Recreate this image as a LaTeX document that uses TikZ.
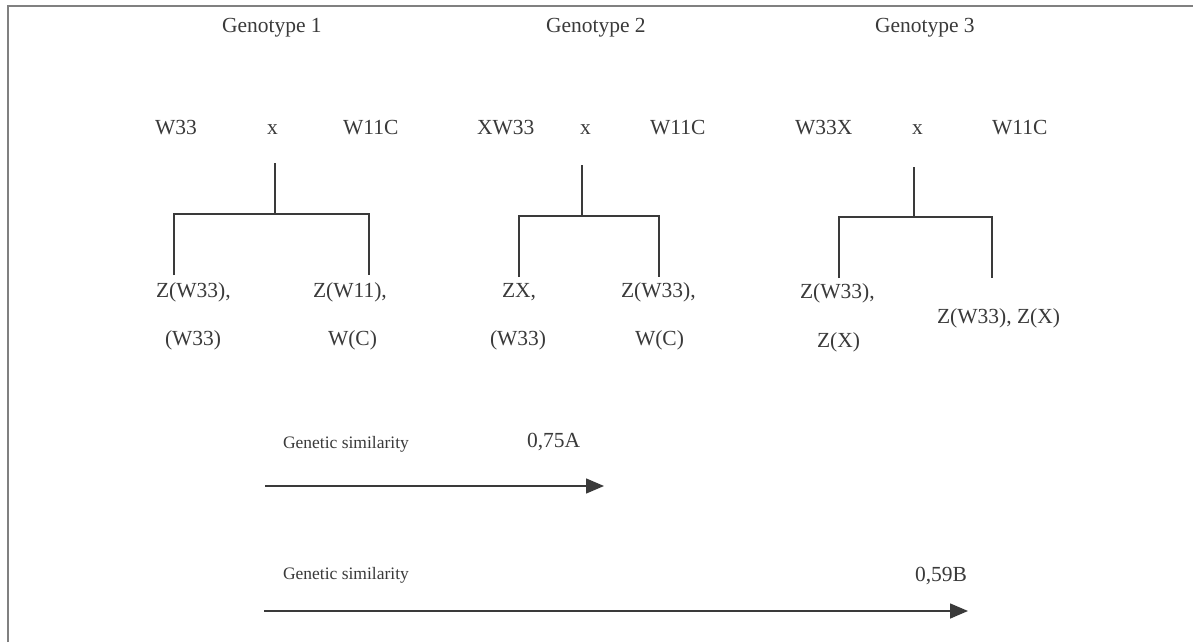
\documentclass[tikz,border=0pt]{standalone}
\usepackage{fontspec}
\setmainfont{Liberation Serif}
\usetikzlibrary{arrows.meta}
\definecolor{ink}{HTML}{3A3A3A}
\definecolor{framegray}{HTML}{808080}
\begin{document}
\begin{tikzpicture}[x=1pt,y=-1pt,
  lbl/.style={anchor=base west, inner sep=0pt, outer sep=0pt, text=ink, font=\fontsize{21.5}{24}\selectfont},
  small/.style={anchor=base west, inner sep=0pt, outer sep=0pt, text=ink, font=\fontsize{17.5}{20}\selectfont},
  tree/.style={draw=ink, line width=1.3pt},
  simarrow/.style={draw=ink, line width=1.5pt, -{Triangle[length=18pt,width=15pt]}},
  framestyle/.style={draw=framegray, line width=2.5pt}]
\useasboundingbox (0,0) rectangle (1193,642);
\fill[white] (0,0) rectangle (1193,642);
% frame
\coordinate (fBL) at (8,642);
\coordinate (fTL) at (8,6);
\coordinate (fTR) at (1193,6);
\draw[framestyle] (fBL) -- (fTL) -- (fTR);

% headers
\node[lbl] (g1) at (222,33) {Genotype 1};
\node[lbl] (g2) at (546,33) {Genotype 2};
\node[lbl] (g3) at (875,33) {Genotype 3};

% parents
\node[lbl] (p1a) at (155,134) {W33};
\node[lbl] (x1) at (267,134) {x};
\node[lbl] (p1b) at (343,134) {W11C};
\node[lbl] (p2a) at (477,134) {XW33};
\node[lbl] (x2) at (580,134) {x};
\node[lbl] (p2b) at (650,134) {W11C};
\node[lbl] (p3a) at (795,134) {W33X};
\node[lbl] (x3) at (912,134) {x};
\node[lbl] (p3b) at (992,134) {W11C};

% tree 1
\coordinate (s1) at (275,163);
\coordinate (j1) at (275,214);
\coordinate (l1) at (174,214);
\coordinate (r1) at (369,214);
\coordinate (le1) at (174,275);
\coordinate (re1) at (369,275);
\draw[tree] (s1) -- (j1);
\draw[tree] (le1) -- (l1) -- (r1) -- (re1);
\node[lbl] (c1a) at (156,297) {Z(W33),};
\node[lbl] (c1b) at (165,345) {(W33)};
\node[lbl] (c1c) at (313,297) {Z(W11),};
\node[lbl] (c1d) at (328,345) {W(C)};

% tree 2
\coordinate (s2) at (582,165);
\coordinate (j2) at (582,216);
\coordinate (l2) at (519,216);
\coordinate (r2) at (659,216);
\coordinate (le2) at (519,277);
\coordinate (re2) at (659,277);
\draw[tree] (s2) -- (j2);
\draw[tree] (le2) -- (l2) -- (r2) -- (re2);
\node[lbl] (c2a) at (502,297) {ZX,};
\node[lbl] (c2b) at (490,345) {(W33)};
\node[lbl] (c2c) at (621,297) {Z(W33),};
\node[lbl] (c2d) at (635,345) {W(C)};

% tree 3
\coordinate (s3) at (914,167);
\coordinate (j3) at (914,217);
\coordinate (l3) at (839,217);
\coordinate (r3) at (992,217);
\coordinate (le3) at (839,278);
\coordinate (re3) at (992,278);
\draw[tree] (s3) -- (j3);
\draw[tree] (le3) -- (l3) -- (r3) -- (re3);
\node[lbl] (c3a) at (800,298) {Z(W33),};
\node[lbl] (c3b) at (817,347) {Z(X)};
\node[lbl] (c3c) at (937,323) {Z(W33), Z(X)};

% similarity arrows
\node[small] (gs1) at (283,448) {Genetic similarity};
\node[lbl] (v1) at (527,447) {0,75A};
\coordinate (a1s) at (265,486);
\coordinate (a1e) at (604,486);
\draw[simarrow] (a1s) -- (a1e);

\node[small] (gs2) at (283,579) {Genetic similarity};
\node[lbl] (v2) at (915,581) {0,59B};
\coordinate (a2s) at (264,611);
\coordinate (a2e) at (968,611);
\draw[simarrow] (a2s) -- (a2e);
\end{tikzpicture}
\end{document}
